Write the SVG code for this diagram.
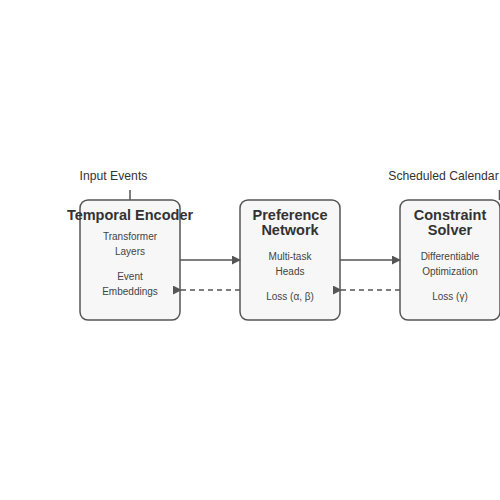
<svg xmlns="http://www.w3.org/2000/svg" width="500" height="500" viewBox="0 0 500 500">
<style>
.box{fill:#f7f7f7;stroke:#555;stroke-width:1.5}
.t{font-family:"Liberation Sans",Arial,sans-serif;font-size:14.5px;font-weight:bold;fill:#333;text-anchor:middle}
.s{font-family:"Liberation Sans",Arial,sans-serif;font-size:10px;fill:#444;text-anchor:middle}
.l{font-family:"Liberation Sans",Arial,sans-serif;font-size:12.2px;fill:#333;text-anchor:middle}
.c{stroke:#555;stroke-width:1.5;fill:none}
.d{stroke-dasharray:5,4}
</style>
<defs>
<marker id="ah" viewBox="0 0 10 10" refX="9" refY="5" markerWidth="6" markerHeight="6" markerUnits="strokeWidth" orient="0">
<path d="M0,0 L10,5 L0,10 z" fill="#555"/>
</marker>
</defs>
<rect width="500" height="500" fill="#fff"/>
<g id="input-label"><text class="l" x="113.5" y="180">Input Events</text></g>
<g id="output-label"><text class="l" x="443.5" y="180">Scheduled Calendar</text></g>
<g id="temporal-encoder">
<rect class="box" x="80" y="200" width="100" height="120" rx="8"/>
<text class="t" x="130" y="220">Temporal Encoder</text>
<text class="s" x="130" y="240">Transformer</text>
<text class="s" x="130" y="255">Layers</text>
<text class="s" x="130" y="280">Event</text>
<text class="s" x="130" y="295">Embeddings</text>
</g>
<g id="preference-network">
<rect class="box" x="240" y="200" width="100" height="120" rx="8"/>
<text class="t" x="290" y="220">Preference</text>
<text class="t" x="290" y="235">Network</text>
<text class="s" x="290" y="260">Multi-task</text>
<text class="s" x="290" y="275">Heads</text>
<text class="s" x="290" y="300">Loss (α, β)</text>
</g>
<g id="constraint-solver">
<rect class="box" x="400" y="200" width="100" height="120" rx="8"/>
<text class="t" x="450" y="220">Constraint</text>
<text class="t" x="450" y="235">Solver</text>
<text class="s" x="450" y="260">Differentiable</text>
<text class="s" x="450" y="275">Optimization</text>
<text class="s" x="450" y="300">Loss (γ)</text>
</g>
<g id="connectors">
<line class="c" x1="130" y1="190" x2="130" y2="200"/>
<line class="c" x1="499.5" y1="190" x2="499.5" y2="200"/>
<line class="c" x1="180" y1="260" x2="240" y2="260" marker-end="url(#ah)"/>
<line class="c" x1="340" y1="260" x2="400" y2="260" marker-end="url(#ah)"/>
<line class="c d" x1="240" y1="290" x2="181" y2="290" marker-end="url(#ah)"/>
<line class="c d" x1="400" y1="290" x2="341" y2="290" marker-end="url(#ah)"/>
</g>
</svg>
